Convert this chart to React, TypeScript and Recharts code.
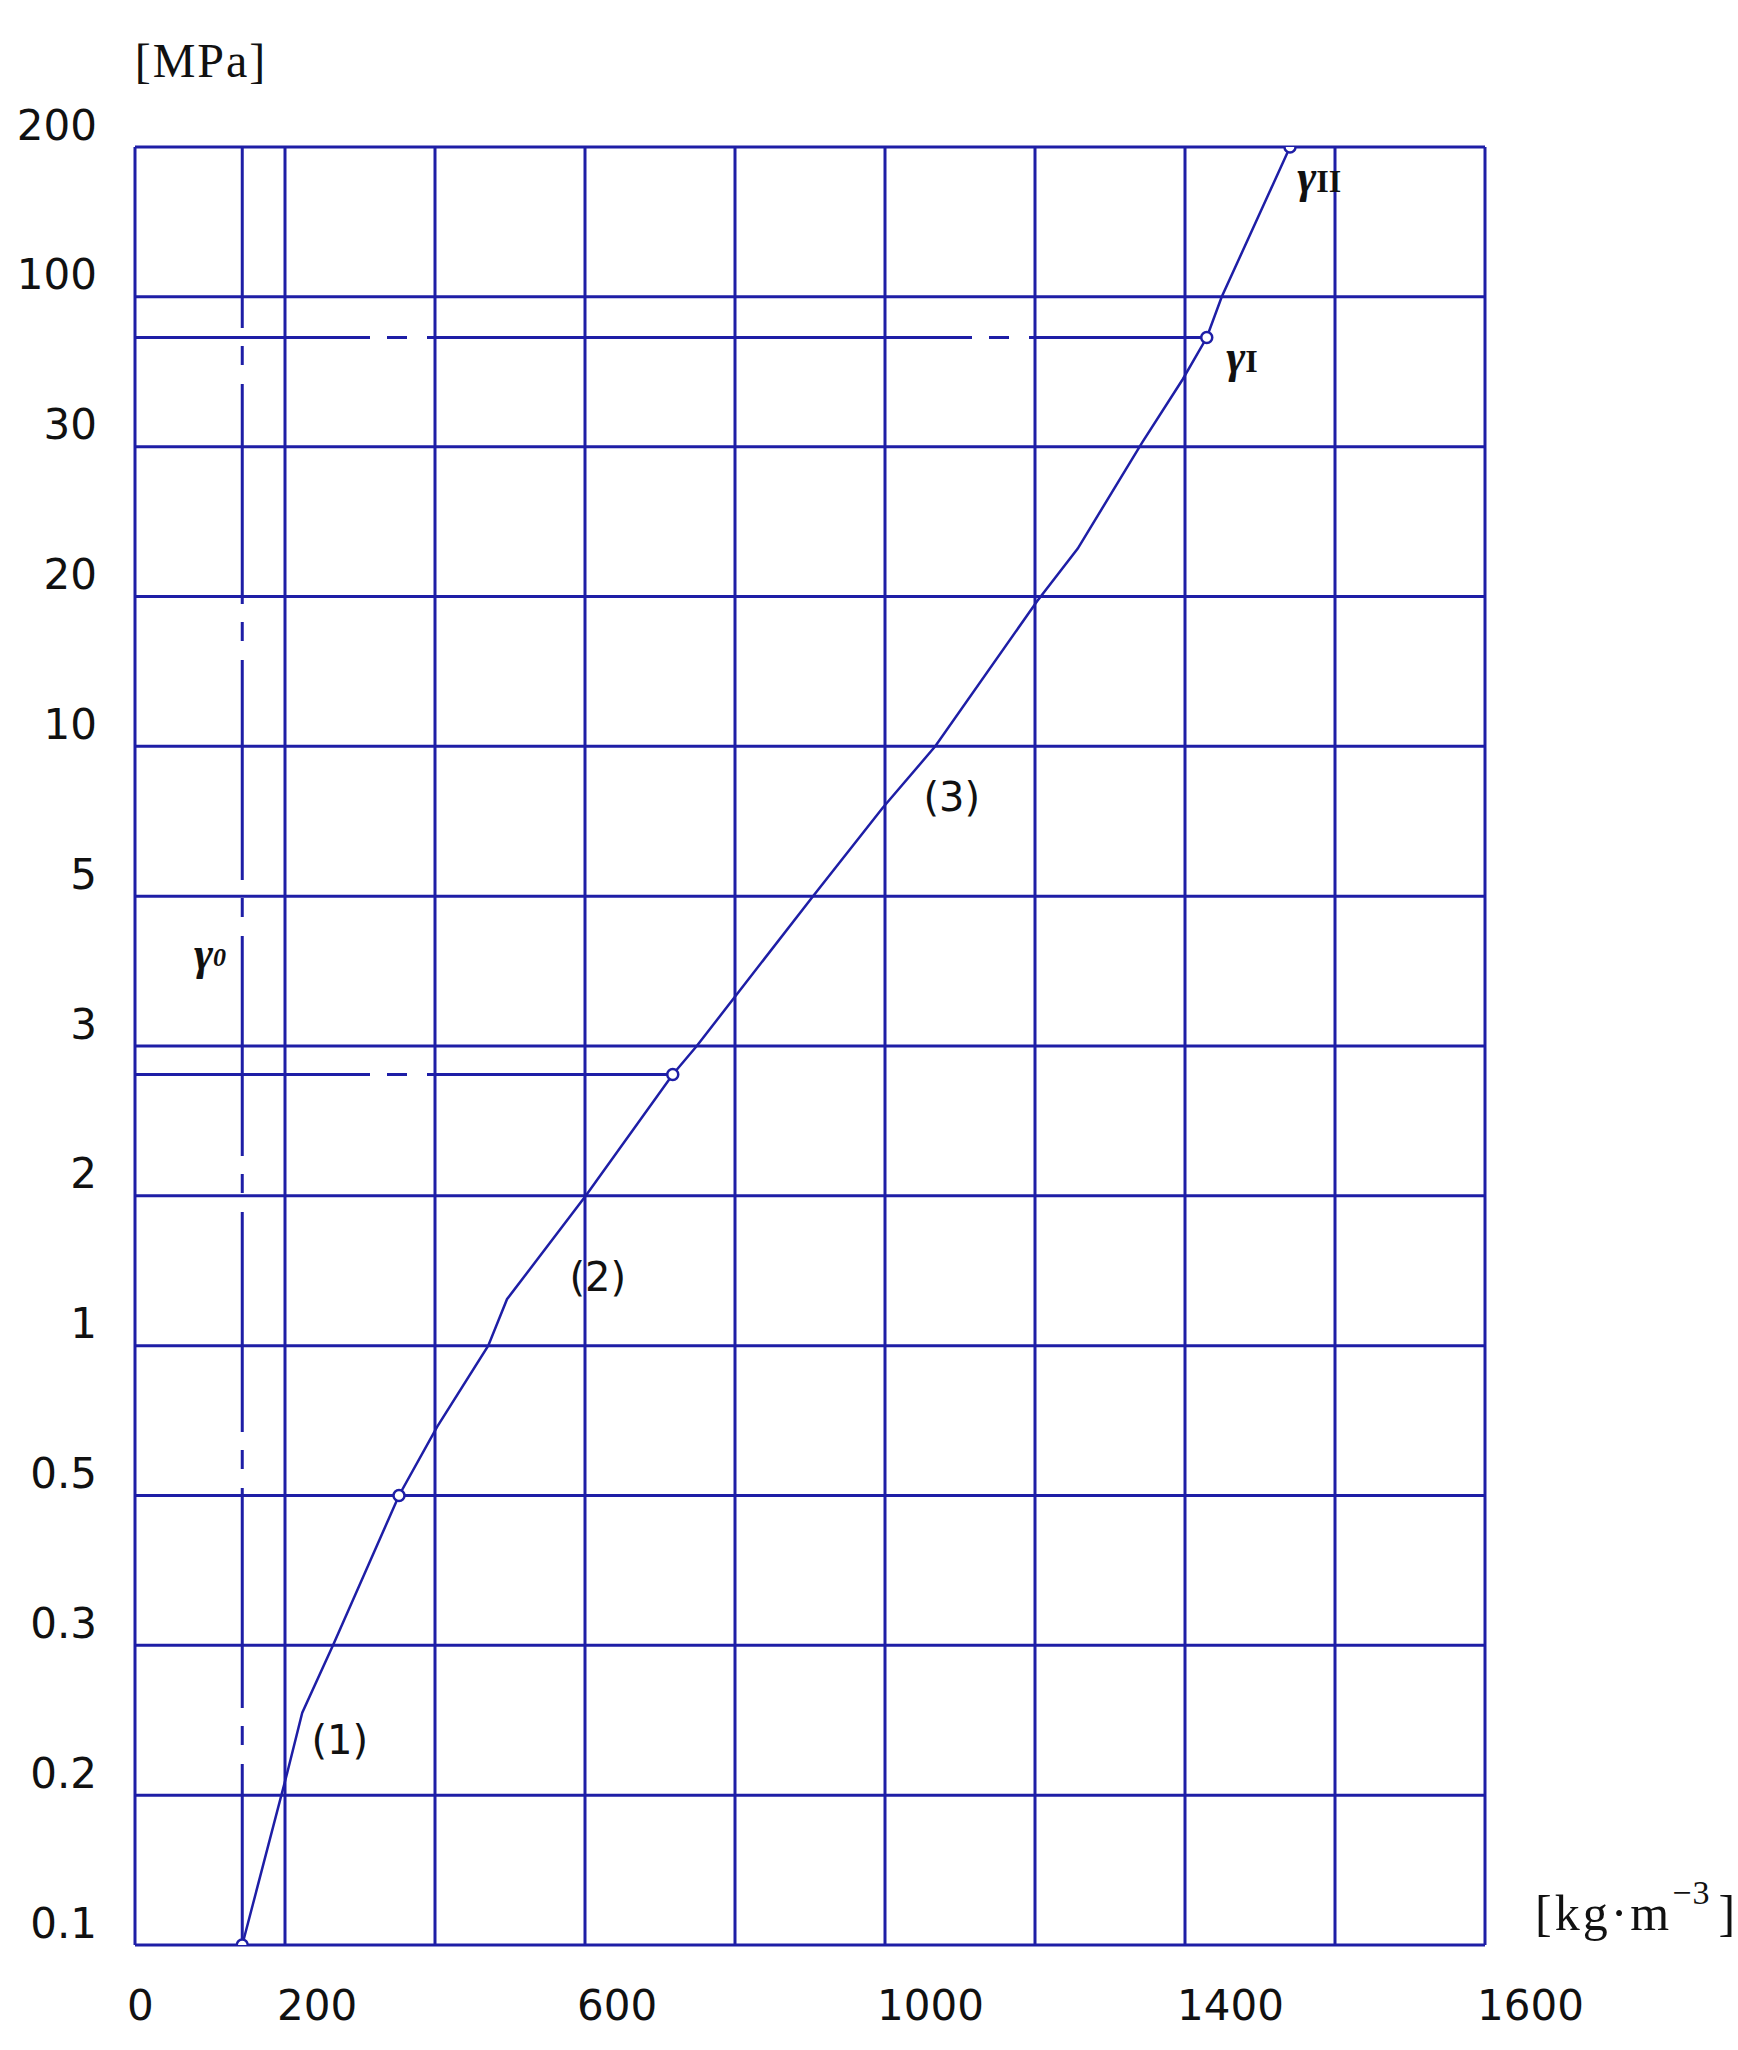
import React from 'react';
import { ComposedChart, Line, XAxis, YAxis, ReferenceLine, ReferenceDot } from 'recharts';

// ---- axis data ----
const densityGrid = [0, 200, 400, 600, 800, 1000, 1200, 1400, 1600, 1800];
const densityTicks = [0, 200, 600, 1000, 1400, 1800];
const densityTickLabels = ['0', '200', '600', '1000', '1400', '1600'];
const pressureLevels = [0.1, 0.2, 0.3, 0.5, 1, 2, 3, 5, 10, 20, 30, 100, 200];
const pressureLabels = ['0.1', '0.2', '0.3', '0.5', '1', '2', '3', '5', '10', '20', '30', '100', '200'];

// ---- curve (density kg/m3, pressure MPa) ----
const curveDensity = [143, 203, 223, 264, 352, 403, 471, 496, 601, 717, 749, 904, 997, 1067, 1203, 1257, 1343, 1397, 1429, 1449, 1540];
const curvePressure = [0.1, 0.215, 0.255, 0.3, 0.5, 0.73, 1.0, 1.31, 2.0, 2.81, 3.0, 5.0, 7.95, 10, 19.7, 23.2, 32, 61.5, 81, 100, 200];
const markerDensity = [143, 352, 717, 1429, 1540];

// ---- guide lines ----
const gamma0Density = 143;
const guideDensity = [717, 1429];
const guidePressure = [2.81, 81];

// ---- annotations ----
const annoText = ['(1)', '(2)', '(3)'];
const annoDensity = [273, 617, 1089];
const annoPressure = [0.237, 1.46, 8.3];
const gammaMain = ['γ', 'γ', 'γ'];
const gammaSub = ['0', 'I', 'II'];
const gammaDensity = [100, 1476, 1579];
const gammaPressure = [4.24, 72, 180];

const BLUE = '#1e1ea6';
const SANS = 'DejaVu Sans, sans-serif';
const SERIF = 'Liberation Serif, serif';

function toLevel(p: number): number {
  for (let i = 0; i < pressureLevels.length - 1; i++) {
    const a = pressureLevels[i];
    const b = pressureLevels[i + 1];
    if (p <= b) return i + (p - a) / (b - a);
  }
  return pressureLevels.length - 1;
}

const data = curveDensity.map((x, i) => ({
  x,
  level: toLevel(curvePressure[i]),
  marker: markerDensity.includes(x),
}));

const renderDot = (props: any) => {
  const { cx, cy, payload, index } = props;
  if (!payload || !payload.marker) return <g key={`d${index}`} />;
  return <circle key={`d${index}`} cx={cx} cy={cy} r={5.5} fill="#fff" stroke={BLUE} strokeWidth={2.5} />;
};

const dashShape = (dash: string, offset: number) => (p: any) => (
  <line x1={p.x1} y1={p.y1} x2={p.x2} y2={p.y2} stroke={BLUE} strokeWidth={3} strokeDasharray={dash} strokeDashoffset={offset} />
);

const YTick = (props: any) => {
  const { x, y, payload } = props;
  return (
    <text x={x - 38} y={y - 22} textAnchor="end" dominantBaseline="central" fontFamily={SANS} fontSize={42} fill="#111">
      {pressureLabels[payload.value]}
    </text>
  );
};

const XTick = (props: any) => {
  const { x, y, payload } = props;
  const i = densityTicks.indexOf(payload.value);
  return (
    <text x={x - 8} y={y + 60} textAnchor="start" dominantBaseline="central" fontFamily={SANS} fontSize={42} fill="#111">
      {densityTickLabels[i]}
    </text>
  );
};

const mpaLabel = (props: any) => {
  const vb = props.viewBox || { x: 0, y: 147, width: 135 };
  return (
    <text x={vb.x + vb.width + 66} y={vb.y - 87} textAnchor="middle" dominantBaseline="central" fontFamily={SERIF} fontSize={48} letterSpacing={2} fill="#111">
      [MPa]
    </text>
  );
};

const kgLabel = (props: any) => {
  const vb = props.viewBox || { x: 135, y: 1945, width: 1350 };
  return (
    <text x={vb.x + vb.width + 50} y={vb.y - 15} textAnchor="start" fontFamily={SERIF} fontSize={50} letterSpacing={3} fill="#111">
      [kg·m
      <tspan dy={-26} fontSize={34} letterSpacing={1}>−3</tspan>
      <tspan dy={26} dx={8}>]</tspan>
    </text>
  );
};

export default function App() {
  return (
    <div style={{ position: 'absolute', left: 0, top: 0, width: 1738, height: 2050, background: '#fff' }}>
      <ComposedChart width={1738} height={2050} data={data} margin={{ top: 147, right: 253, bottom: 0, left: 0 }}>
        <XAxis
          dataKey="x"
          type="number"
          domain={[0, 1800]}
          ticks={densityTicks}
          interval={0}
          allowDataOverflow
          axisLine={false}
          tickLine={false}
          tickSize={0}
          tickMargin={0}
          height={105}
          tick={<XTick />}
          label={kgLabel}
        />
        <YAxis
          type="number"
          domain={[0, 12]}
          ticks={pressureLabels.map((_, i) => i)}
          interval={0}
          allowDataOverflow
          axisLine={false}
          tickLine={false}
          tickSize={0}
          tickMargin={0}
          width={135}
          tick={<YTick />}
          label={mpaLabel}
        />
        {densityGrid.map((v) => (
          <ReferenceLine key={`gx${v}`} x={v} stroke={BLUE} strokeWidth={3} />
        ))}
        {pressureLevels.map((_, i) => (
          <ReferenceLine key={`gy${i}`} y={i} stroke={BLUE} strokeWidth={3} />
        ))}
        <ReferenceLine
          segment={[{ x: gamma0Density, y: pressureLevels.length - 1 }, { x: gamma0Density, y: 0 }]}
          shape={dashShape('220 18 19 19', 39)}
        />
        {guideDensity.map((d, i) => (
          <ReferenceLine
            key={`guide${i}`}
            segment={[{ x: 0, y: toLevel(guidePressure[i]) }, { x: d, y: toLevel(guidePressure[i]) }]}
            shape={dashShape('545 17 20 20', 310)}
          />
        ))}
        <Line
          dataKey="level"
          type="linear"
          stroke={BLUE}
          strokeWidth={2.5}
          dot={renderDot}
          activeDot={false}
          isAnimationActive={false}
        />
        {annoText.map((t, i) => (
          <ReferenceDot
            key={`a${i}`}
            x={annoDensity[i]}
            y={toLevel(annoPressure[i])}
            r={0}
            ifOverflow="visible"
            shape={(p: any) => (
              <text x={p.cx} y={p.cy} textAnchor="middle" dominantBaseline="central" fontFamily={SANS} fontSize={40} fill="#111">
                {t}
              </text>
            )}
          />
        ))}
        {gammaMain.map((g, i) => (
          <ReferenceDot
            key={`g${i}`}
            x={gammaDensity[i]}
            y={toLevel(gammaPressure[i])}
            r={0}
            ifOverflow="visible"
            shape={(p: any) => (
              <text x={p.cx} y={p.cy} textAnchor="middle" dominantBaseline="central" fontFamily={SERIF} fontStyle="italic" fontWeight="bold" fontSize={46} fill="#111">
                {g}
                <tspan dy={4} fontSize={i === 0 ? 26 : 32} fontStyle={i === 0 ? 'italic' : 'normal'}>{gammaSub[i]}</tspan>
              </text>
            )}
          />
        ))}
      </ComposedChart>
    </div>
  );
}
